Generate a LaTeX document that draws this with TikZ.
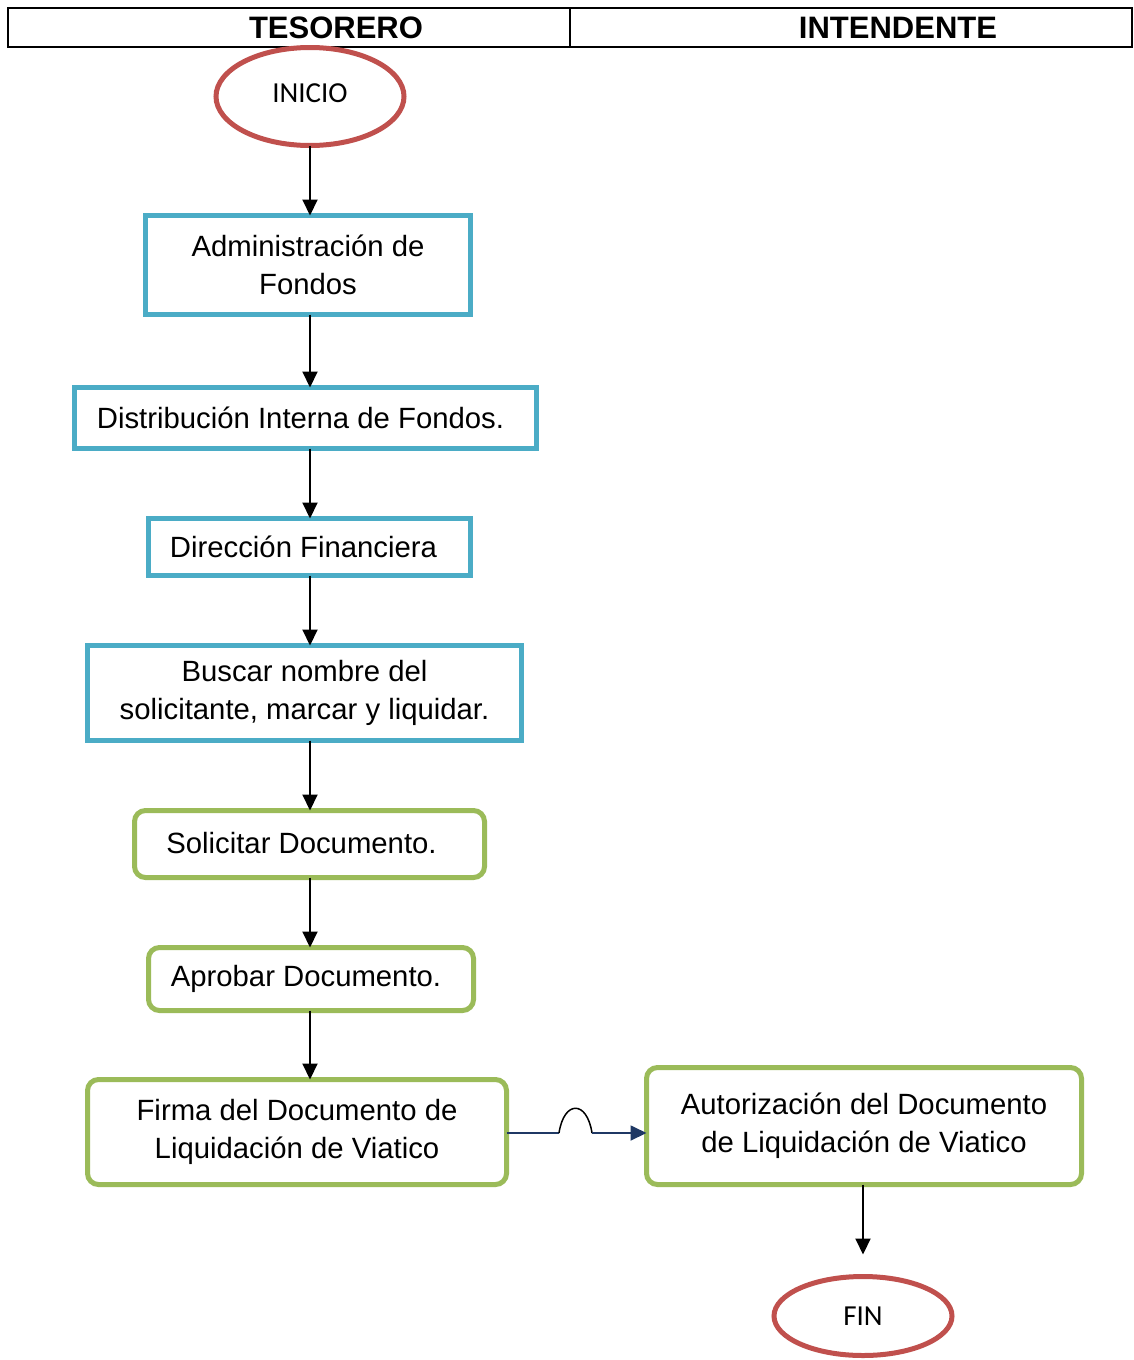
\documentclass[tikz,border=0pt]{standalone}
\usepackage{fontspec}
\setmainfont{Liberation Sans}
\newfontfamily\calibfont{Carlito}
\usetikzlibrary{shapes.geometric,arrows.meta}
\definecolor{endred}{HTML}{C0504D}
\definecolor{procblue}{HTML}{4BACC6}
\definecolor{procgreen}{HTML}{9BBB59}
\definecolor{linknavy}{HTML}{1F3864}
\begin{document}
\begin{tikzpicture}[x=1pt,y=-1pt,
  every node/.style={inner sep=0pt,outer sep=0pt},
  lanehead/.style={draw,line width=2pt,minimum height=39pt,
    font=\fontsize{31}{31}\selectfont\bfseries},
  terminal/.style={ellipse,draw=endred,line width=5pt,
    font=\calibfont\fontsize{29}{29}\selectfont},
  bluebox/.style={draw=procblue,line width=5pt,align=center,
    font=\fontsize{29.3}{38.5}\selectfont},
  greenbox/.style={draw=procgreen,line width=5pt,rounded corners=11pt,align=center,
    font=\fontsize{29.3}{38.5}\selectfont},
  flow/.style={line width=2pt,-{Triangle[length=16pt,width=15pt]}},
  link/.style={draw=linknavy,line width=1.8pt}
]
\useasboundingbox (0,0) rectangle (1133,1360);

% swimlane header
\node[lanehead,minimum width=562pt] (laneT) at (289,27.5) {\hspace*{94pt}TESORERO};
\node[lanehead,minimum width=562pt] (laneI) at (851,27.5) {\hspace*{94pt}INTENDENTE};

% start / end
\node[terminal,minimum width=188pt,minimum height=98pt] (ini) at (310,96.5) {\raisebox{7pt}{INICIO}};
\node[terminal,minimum width=178pt,minimum height=79pt] (fin) at (863,1316) {FIN};

% process steps
\node[bluebox,minimum width=325pt,minimum height=99pt] (b1) at (308,265)
  {Administración de\\Fondos};
\node[bluebox,minimum width=462pt,minimum height=61pt] (b2) at (305.5,418)
  {\hspace*{-10pt}Distribución Interna de Fondos.};
\node[bluebox,minimum width=322pt,minimum height=57pt] (b3) at (309.5,547)
  {\hspace*{-12pt}Dirección Financiera};
\node[bluebox,minimum width=434pt,minimum height=95pt] (b4) at (304.5,693)
  {Buscar nombre del\\solicitante, marcar y liquidar.};
\node[greenbox,minimum width=350pt,minimum height=67pt] (b5) at (309.5,844)
  {\hspace*{-16pt}\raisebox{3pt}{Solicitar Documento.}};
\node[greenbox,minimum width=325pt,minimum height=63pt] (b6) at (311,979)
  {\hspace*{-10pt}Aprobar Documento.};
\node[greenbox,minimum width=419pt,minimum height=105pt] (b7) at (297,1132)
  {\raisebox{2pt}{\begin{tabular}{@{}c@{}}Firma del Documento de\\Liquidación de Viatico\end{tabular}}};
\node[greenbox,minimum width=435pt,minimum height=117pt] (b8) at (864,1126)
  {\raisebox{6pt}{\begin{tabular}{@{}c@{}}Autorización del Documento\\de Liquidación de Viatico\end{tabular}}};

% vertical flow
\draw[flow] (ini.south) -- (ini.south |- b1.north);
\draw[flow] (b1.south -| ini.south) -- (ini.south |- b2.north);
\draw[flow] (b2.south -| ini.south) -- (ini.south |- b3.north);
\draw[flow] (b3.south -| ini.south) -- (ini.south |- b4.north);
\draw[flow] (b4.south -| ini.south) -- (ini.south |- b5.north);
\draw[flow] (b5.south -| ini.south) -- (ini.south |- b6.north);
\draw[flow] (b6.south -| ini.south) -- (ini.south |- b7.north);
\draw[flow,shorten >=22pt] (b8.south -| fin.north) -- (fin.north);

% cross-lane link with a line jump
\coordinate (j1) at (559,1133);
\coordinate (j2) at (592,1133);
\draw[link] (b7.east |- j1) -- (j1);
\draw[line width=1.5pt] (j1) .. controls (564,1100) and (587,1100) .. (j2);
\draw[link,-{Triangle[length=16pt,width=15pt]},fill=linknavy] (j2) -- (j2 -| b8.west);
\end{tikzpicture}
\end{document}
